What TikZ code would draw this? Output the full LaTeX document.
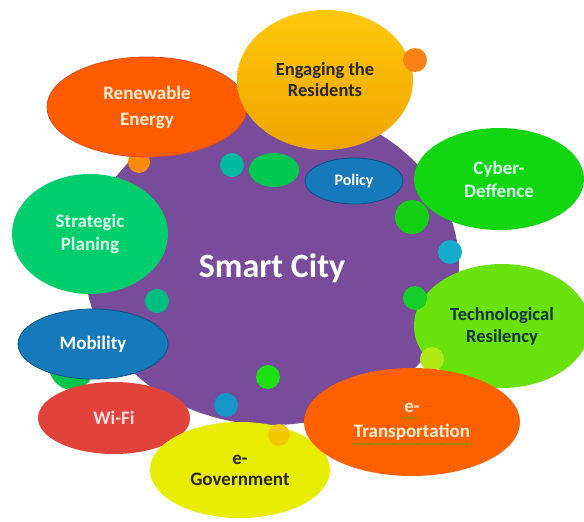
\documentclass[tikz,border=0pt]{standalone}
\usepackage{fontspec}
\setmainfont{Carlito}
\usetikzlibrary{shapes.geometric,decorations.pathmorphing}
\definecolor{purp}{RGB}{120,76,155}
\definecolor{renew}{RGB}{255,92,0}
\definecolor{renewedge}{RGB}{225,70,40}
\definecolor{engtop}{RGB}{255,200,10}
\definecolor{engbot}{RGB}{238,165,0}
\definecolor{cyber}{RGB}{18,214,18}
\definecolor{strat}{RGB}{0,206,108}
\definecolor{blu}{RGB}{22,122,186}
\definecolor{bluedge}{RGB}{16,84,135}
\definecolor{wifi}{RGB}{226,66,60}
\definecolor{egov}{RGB}{232,236,0}
\definecolor{tech}{RGB}{104,226,10}
\definecolor{etrans}{RGB}{255,96,0}
\definecolor{lighttxt}{RGB}{250,238,215}
\definecolor{mintxt}{RGB}{215,255,235}
\definecolor{darktxt}{RGB}{40,40,40}
\definecolor{navytxt}{RGB}{20,50,65}
\begin{document}
\begin{tikzpicture}[x=1pt,y=-1pt,
  blob/.style={ellipse, inner sep=0pt, align=center,
    font=\bfseries\fontsize{19}{23}\selectfont},
  dot/.style={circle, inner sep=0pt},
  squig/.style={draw={rgb,255:red,120;green,150;blue,20}, line width=0.8pt,
    decorate, decoration={snake, amplitude=0.8pt, segment length=3pt}}]
\useasboundingbox (0,0) rectangle (584,522);
% central body
\node[ellipse, fill=purp, minimum width=374pt, minimum height=320pt] (city) at (272,265) {};
% small dots behind
\node[dot, fill={rgb,255:red,248;green,140;blue,10}, minimum size=22pt] (d1) at (139,162) {};
\node[ellipse, inner sep=0pt, fill={rgb,255:red,0;green,195;blue,75}, minimum width=48pt, minimum height=56pt] (hid) at (72,362) {};
% Renewable Energy
\node[blob, fill=renew, draw=renewedge, line width=0.8pt, minimum width=200pt, minimum height=100pt,
  text=lighttxt, font=\bfseries\fontsize{19}{26}\selectfont] (ren) at (147,107) {Renewable\\Energy};
% Engaging the Residents
\node[blob, top color=engtop, bottom color=engbot, minimum width=176pt, minimum height=140pt,
  text=darktxt, font=\bfseries\fontsize{18.5}{21}\selectfont] (eng) at (325,80) {Engaging the\\Residents};
\node[dot, fill={rgb,255:red,248;green,128;blue,20}, minimum size=24pt] (d2) at (415,60) {};
% Cyber-Deffence
\node[blob, fill=cyber, minimum width=170pt, minimum height=102pt, text=mintxt] (cyb) at (499,179) {Cyber-\\Deffence};
% Strategic Planing
\node[blob, fill=strat, minimum width=156pt, minimum height=120pt, text=mintxt] (str) at (90,234) {Strategic\\Planing};
% Policy
\node[blob, fill=blu, draw=bluedge, line width=0.8pt, minimum width=98pt, minimum height=46pt,
  text=white, font=\bfseries\fontsize{16}{19}\selectfont] (pol) at (354,181) {Policy};
% small dots on body
\node[dot, fill={rgb,255:red,0;green,185;blue,160}, minimum size=24pt] (d3) at (232,165) {};
\node[ellipse, inner sep=0pt, fill={rgb,255:red,0;green,200;blue,80}, minimum width=50pt, minimum height=34pt] (d4) at (274,170) {};
\node[dot, fill={rgb,255:red,0;green,190;blue,130}, minimum size=24pt] (d5) at (157,301) {};
\node[dot, fill={rgb,255:red,20;green,208;blue,20}, minimum size=34pt] (d6) at (412,217) {};
\node[dot, fill={rgb,255:red,20;green,172;blue,200}, minimum size=24pt] (d7) at (450,252) {};
\node[dot, fill={rgb,255:red,30;green,222;blue,20}, minimum size=24pt] (d8) at (268,377) {};
\node[dot, fill={rgb,255:red,20;green,150;blue,200}, minimum size=24pt] (d9) at (226,405) {};
% Mobility
\node[blob, fill=blu, draw=bluedge, line width=0.8pt, minimum width=150pt, minimum height=70pt, text=white] (mob) at (93,344) {Mobility};
% Wi-Fi
\node[blob, fill=wifi, minimum width=152pt, minimum height=72pt, text={rgb,255:red,250;green,222;blue,222}] (wifi) at (114,418) {Wi-Fi};
% e-Government
\node[blob, fill=egov, minimum width=180pt, minimum height=96pt, text=darktxt, font=\bfseries\fontsize{19}{21}\selectfont] (egov) at (240,470) {e-\\Government};
\node[dot, fill={rgb,255:red,242;green,200;blue,0}, minimum size=22pt] (d10) at (279,435) {};
% Technological Resilency
\node[blob, fill=tech, minimum width=176pt, minimum height=124pt, text=navytxt, font=\bfseries\fontsize{18.5}{22}\selectfont] (tech) at (502,326) {Technological\\Resilency};
\node[dot, fill={rgb,255:red,20;green,205;blue,40}, minimum size=24pt] (d11) at (415,298) {};
\node[dot, fill={rgb,255:red,175;green,232;blue,20}, minimum size=24pt] (d12) at (432,359) {};
% e-Transportation
\node[blob, fill=etrans, minimum width=216pt, minimum height=108pt, text=lighttxt, font=\bfseries\fontsize{19}{25}\selectfont] (etr) at (412,422) {e-\\Transportation};
\coordinate (u1a) at (403,418);
\coordinate (u1b) at (418,418);
\coordinate (u2a) at (352,444);
\coordinate (u2b) at (472,444);
\draw[squig] (u1a) -- (u1b);
\draw[squig] (u2a) -- (u2b);
% title
\node[text=white, font=\bfseries\fontsize{34}{40}\selectfont, inner sep=0pt] (title) at (272,268) {Smart City};
\end{tikzpicture}
\end{document}
